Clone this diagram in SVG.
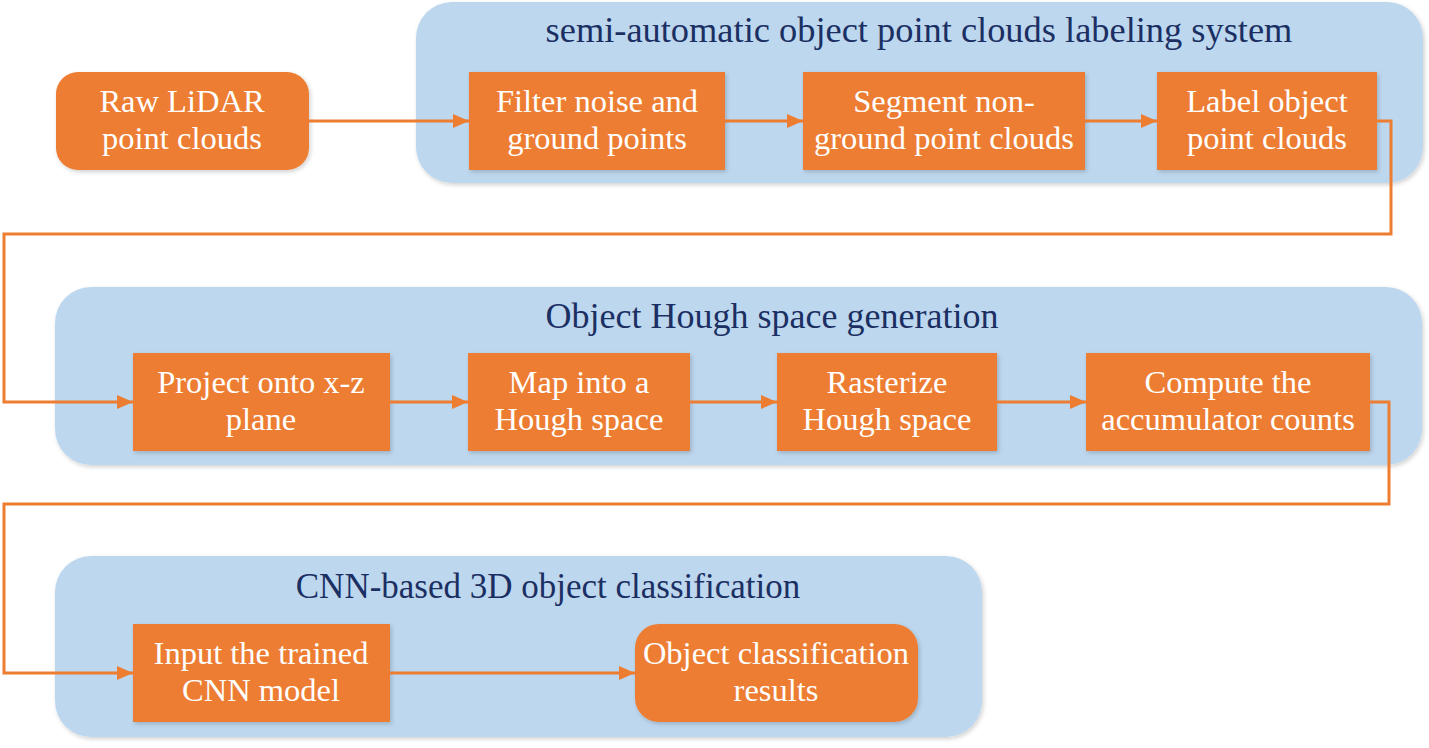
<svg xmlns="http://www.w3.org/2000/svg" width="1429" height="748" viewBox="0 0 1429 748">
<defs>
<filter id="sh" x="-10%" y="-10%" width="120%" height="130%">
<feDropShadow dx="1.5" dy="2" stdDeviation="2" flood-color="#000" flood-opacity="0.18"/>
</filter>
<marker id="arr" markerUnits="userSpaceOnUse" markerWidth="17" markerHeight="15" refX="16" refY="7" orient="auto">
<path d="M0,0 L16,7 L0,14 z" fill="#ED7D31"/>
</marker>
<style>
.panel{fill:#BDD7EE;filter:url(#sh);}
.box{fill:#ED7D31;filter:url(#sh);}
.title{font-family:"Liberation Serif","Times New Roman",serif;font-size:35px;fill:#1B2F63;text-anchor:middle;}
.lbl{font-family:"Liberation Serif","Times New Roman",serif;font-size:32.5px;fill:#FFFFFF;text-anchor:middle;}
.con{fill:none;stroke:#ED7D31;stroke-width:3;}
</style>
</defs>
<rect width="1429" height="748" fill="#FFFFFF"/>

<g id="panel-labeling">
<rect class="panel" x="416" y="2" width="1007" height="181" rx="36"/>
<text class="title" x="919" y="42" style="font-size:36.4px">semi-automatic object point clouds labeling system</text>
</g>
<g id="panel-hough">
<rect class="panel" x="55" y="287" width="1367" height="178" rx="36"/>
<text class="title" x="772" y="328" style="font-size:36px">Object Hough space generation</text>
</g>
<g id="panel-cnn">
<rect class="panel" x="55" y="556" width="927" height="181" rx="36"/>
<text class="title" x="548" y="598">CNN-based 3D object classification</text>
</g>

<g id="node-raw">
<rect class="box" x="56" y="72" width="253" height="98" rx="22"/>
<text class="lbl" x="182" y="112">Raw LiDAR</text>
<text class="lbl" x="182" y="149">point clouds</text>
</g>
<g id="node-filter">
<rect class="box" x="469" y="72" width="256" height="98"/>
<text class="lbl" x="597" y="112">Filter noise and</text>
<text class="lbl" x="597" y="149">ground points</text>
</g>
<g id="node-segment">
<rect class="box" x="803" y="72" width="282" height="98"/>
<text class="lbl" x="944" y="112">Segment non-</text>
<text class="lbl" x="944" y="149">ground point clouds</text>
</g>
<g id="node-label">
<rect class="box" x="1157" y="72" width="220" height="98"/>
<text class="lbl" x="1267" y="112">Label object</text>
<text class="lbl" x="1267" y="149">point clouds</text>
</g>

<g id="node-project">
<rect class="box" x="133" y="353" width="257" height="98"/>
<text class="lbl" x="261" y="393">Project onto x-z</text>
<text class="lbl" x="261" y="430">plane</text>
</g>
<g id="node-map">
<rect class="box" x="468" y="353" width="222" height="98"/>
<text class="lbl" x="579" y="393">Map into a</text>
<text class="lbl" x="579" y="430">Hough space</text>
</g>
<g id="node-rasterize">
<rect class="box" x="777" y="353" width="220" height="98"/>
<text class="lbl" x="887" y="393">Rasterize</text>
<text class="lbl" x="887" y="430">Hough space</text>
</g>
<g id="node-compute">
<rect class="box" x="1086" y="353" width="284" height="98"/>
<text class="lbl" x="1228" y="393">Compute the</text>
<text class="lbl" x="1228" y="430">accumulator counts</text>
</g>

<g id="node-input">
<rect class="box" x="133" y="624" width="257" height="98"/>
<text class="lbl" x="261" y="664">Input the trained</text>
<text class="lbl" x="261" y="701">CNN model</text>
</g>
<g id="node-result">
<rect class="box" x="635" y="624" width="283" height="98" rx="24"/>
<text class="lbl" x="776" y="664">Object classification</text>
<text class="lbl" x="776" y="701">results</text>
</g>

<g id="connectors">
<path class="con" d="M309,121 H469" marker-end="url(#arr)"/>
<path class="con" d="M725,121 H803" marker-end="url(#arr)"/>
<path class="con" d="M1085,121 H1157" marker-end="url(#arr)"/>
<path class="con" d="M1377,121 H1391 V234 H4 V402 H133" marker-end="url(#arr)"/>
<path class="con" d="M390,402 H468" marker-end="url(#arr)"/>
<path class="con" d="M690,402 H777" marker-end="url(#arr)"/>
<path class="con" d="M997,402 H1086" marker-end="url(#arr)"/>
<path class="con" d="M1370,402 H1389 V504 H4 V673 H133" marker-end="url(#arr)"/>
<path class="con" d="M390,673 H635" marker-end="url(#arr)"/>
</g>
</svg>
